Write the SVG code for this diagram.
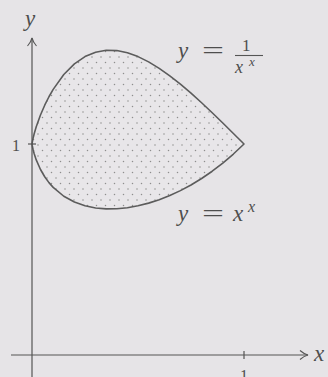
<svg xmlns="http://www.w3.org/2000/svg" width="328" height="377" viewBox="0 0 328 377">
<style>
.ax{stroke:#555;stroke-width:1.2;fill:none}
.cv{stroke:#5c5c5c;stroke-width:1.6;fill:url(#dots)}
.t{font-family:"Liberation Serif","DejaVu Serif",serif;fill:#4e4e4e}
.i{font-style:italic}
</style>
<defs>
<pattern id="dots" patternUnits="userSpaceOnUse" width="9" height="11">
<rect width="9" height="11" fill="#e8e6e9"/>
<circle cx="2" cy="2" r="0.75" fill="#8e8e8e"/>
<circle cx="6.5" cy="7.5" r="0.75" fill="#8e8e8e"/>
</pattern>
<marker id="arr" markerWidth="12" markerHeight="12" refX="10" refY="6" orient="auto" markerUnits="userSpaceOnUse">
<path d="M2,1.5 Q6,5 10,6 Q6,7 2,10.5" fill="none" stroke="#555" stroke-width="1.1"/>
</marker>
</defs>
<rect width="328" height="377" fill="#e6e4e7"/>
<g id="region">
<path class="cv" d="M32,144 L32.21,142.54 L33.06,138.33 L34.12,134.06 L36.24,126.83 L40.48,115.01 L44.72,105.2 L48.96,96.75 L53.2,89.37 L63.8,74.54 L74.4,63.88 L85,56.6 L95.6,52.2 L106.2,50.31 L116.8,50.59 L127.4,52.77 L138,56.6 L148.6,61.86 L159.2,68.32 L169.8,75.82 L180.4,84.16 L191,93.19 L201.6,102.76 L212.2,112.74 L222.8,123.01 L233.4,133.46 L244,144 L233.4,154.04 L222.8,163.09 L212.2,171.22 L201.6,178.5 L191,184.95 L180.4,190.62 L169.8,195.53 L159.2,199.7 L148.6,203.13 L138,205.8 L127.4,207.69 L116.8,208.75 L106.2,208.88 L95.6,207.97 L85,205.8 L74.4,202.07 L63.8,196.26 L53.2,187.4 L48.96,182.6 L44.72,176.77 L40.48,169.49 L36.24,159.88 L34.12,153.5 L33.06,149.52 L32.21,145.45 Z" stroke-linejoin="round"/>
</g>
<g id="connectors">
<line class="ax" x1="32" y1="377" x2="32" y2="38" marker-end="url(#arr)"/>
<line class="ax" x1="11" y1="355" x2="308" y2="355" marker-end="url(#arr)"/>
<line class="ax" x1="28" y1="144" x2="36" y2="144"/>
<line class="ax" x1="244" y1="351" x2="244" y2="359"/>
</g>
<g id="labels">
<text class="t i" x="25" y="26" font-size="23">y</text>
<text class="t i" x="314" y="361" font-size="23">x</text>
<text class="t" x="12" y="151" font-size="16">1</text>
<text class="t" x="240" y="381" font-size="16">1</text>
</g>
<g id="label-upper">
<text class="t i" x="178" y="58" font-size="23">y</text>
<text class="t" x="202" y="58" font-size="24" textLength="22" lengthAdjust="spacingAndGlyphs">=</text>
<text class="t" x="242" y="51" font-size="17">1</text>
<line x1="235" y1="55.5" x2="263" y2="55.5" stroke="#555" stroke-width="1.1"/>
<text class="t i" x="235" y="73" font-size="18">x</text>
<text class="t i" x="249" y="66" font-size="13">x</text>
</g>
<g id="label-lower">
<text class="t i" x="178" y="221" font-size="23">y</text>
<text class="t" x="202" y="221" font-size="24" textLength="22" lengthAdjust="spacingAndGlyphs">=</text>
<text class="t i" x="233" y="221" font-size="23">x</text>
<text class="t i" x="248" y="212" font-size="16">x</text>
</g>
</svg>
